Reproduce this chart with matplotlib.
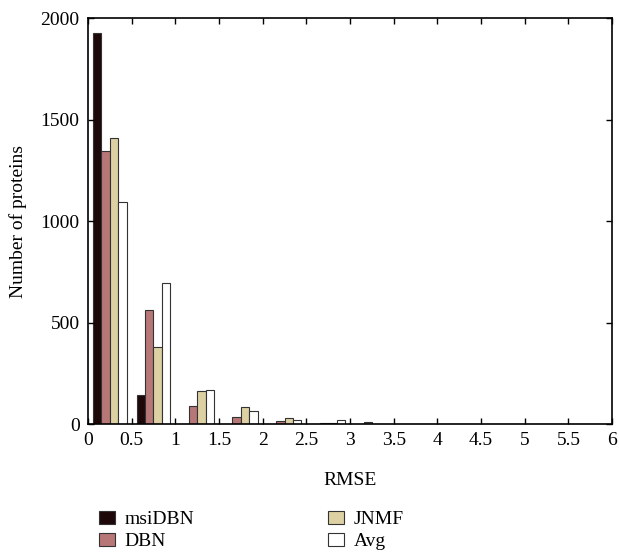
import matplotlib
matplotlib.use("Agg")
import matplotlib.pyplot as plt
import numpy as np

plt.rcParams['font.family'] = ['Liberation Serif', 'DejaVu Serif']

bin_centers = [0.25, 0.75, 1.25, 1.75, 2.25, 2.75, 3.25, 3.75, 4.25, 4.75, 5.25, 5.75]
msiDBN = [1925, 145, 0, 0, 0, 0, 0, 0, 0, 0, 0, 0]
DBN = [1346, 560, 87, 35, 16, 6, 8, 1, 0, 0, 0, 0]
JNMF = [1409, 380, 162, 82, 30, 3, 1, 0, 0, 0, 0, 0]
Avg = [1092, 695, 169, 63, 20, 21, 1, 0, 0, 0, 0, 0]

series = [("msiDBN", msiDBN, "#1e0709"), ("DBN", DBN, "#b87777"),
          ("JNMF", JNMF, "#ddd1a4"), ("Avg", Avg, "#ffffff")]
x_ticks = [0, 0.5, 1, 1.5, 2, 2.5, 3, 3.5, 4, 4.5, 5, 5.5, 6]
x_tick_labels = ["0", "0.5", "1", "1.5", "2", "2.5", "3", "3.5", "4", "4.5", "5", "5.5", "6"]
y_ticks = [0, 500, 1000, 1500, 2000]

fig = plt.figure(figsize=(6.19, 5.56), dpi=100)
ax = fig.add_axes([0.142, 0.2374, 0.847, 0.7302])

w = 0.096
xc = np.array(bin_centers)
handles = []
for i, (name, vals, col) in enumerate(series):
    h = ax.bar(xc + (i - 1.5) * w, vals, width=w, color=col, edgecolor="#333333",
               linewidth=0.8, label=name)
    handles.append(h)

ax.set_xlim(0, 6)
ax.set_ylim(0, 2000)
ax.set_xticks(x_ticks)
ax.set_xticklabels(x_tick_labels)
ax.set_yticks(y_ticks)
ax.tick_params(direction="in", top=True, right=True, labelsize=14, length=4, width=1, pad=6)
for s in ax.spines.values():
    s.set_linewidth(1.2)
ax.set_xlabel("RMSE", fontsize=14, labelpad=16)
ax.set_ylabel("Number of proteins", fontsize=14, labelpad=10)

fig.legend(handles=handles, labels=[s[0] for s in series], ncol=2, frameon=False,
           loc="lower left", bbox_to_anchor=(0.131, -0.021), fontsize=14,
           handlelength=0.85, handleheight=0.65, columnspacing=6.85, labelspacing=0.25,
           handletextpad=0.5)

fig.savefig("out.png", dpi=100)
